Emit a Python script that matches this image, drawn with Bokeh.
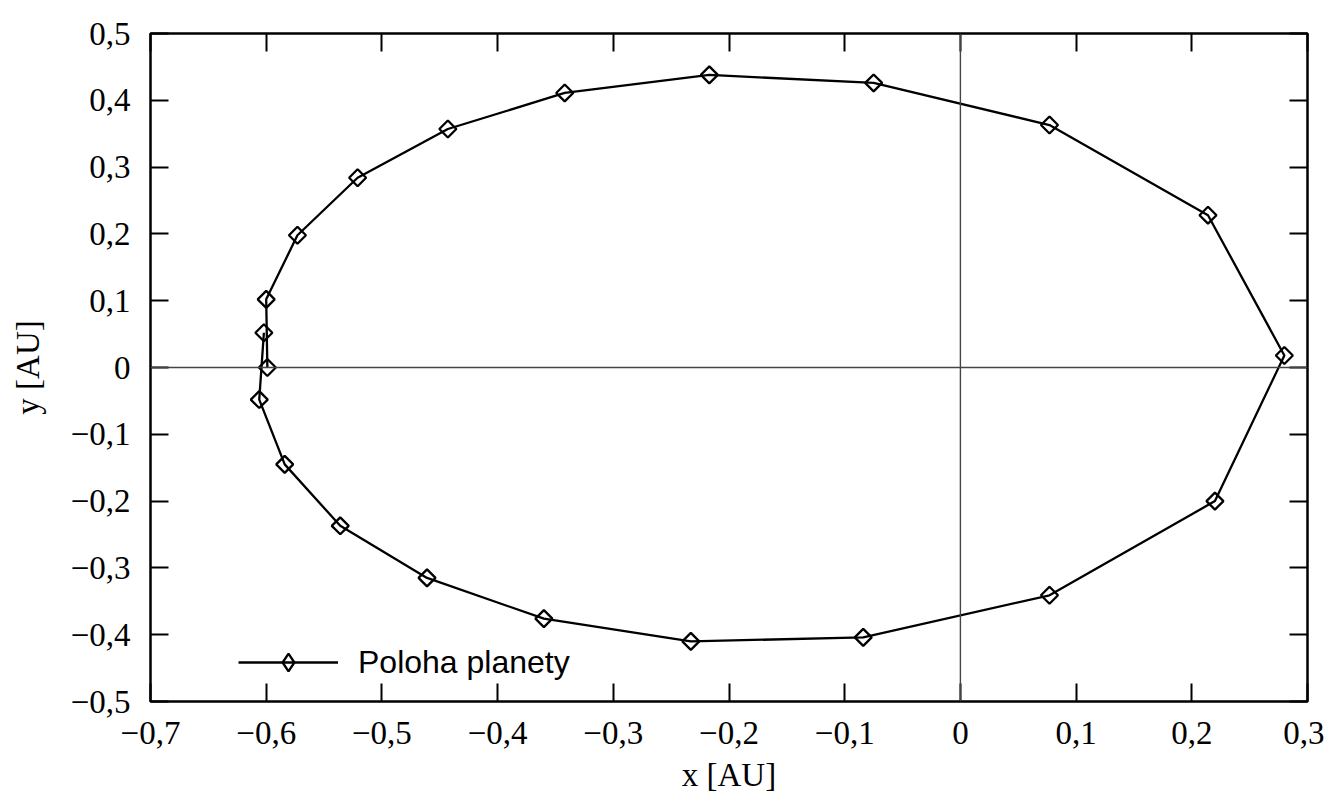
import numpy as np
from bokeh.plotting import figure
from bokeh.models import (FixedTicker, CustomJSTickFormatter, LinearAxis, Span,
                          Legend, LegendItem, Range1d)
from bokeh.embed import file_html
from bokeh.resources import INLINE

# ---- data ----
x_pos = [-0.599, -0.600, -0.573, -0.521, -0.443, -0.342, -0.217, -0.075, 0.077, 0.214,
         0.280, 0.220, 0.077, -0.084, -0.233, -0.360, -0.461, -0.536, -0.584, -0.606, -0.602]
y_pos = [0.000, 0.102, 0.198, 0.284, 0.357, 0.411, 0.438, 0.426, 0.363, 0.228,
         0.018, -0.200, -0.341, -0.404, -0.410, -0.376, -0.315, -0.237, -0.145, -0.048, 0.052]
series_name = "Poloha planety"

x_ticks = [-0.7, -0.6, -0.5, -0.4, -0.3, -0.2, -0.1, 0.0, 0.1, 0.2, 0.3]
x_tick_labels = ["−0,7", "−0,6", "−0,5", "−0,4", "−0,3", "−0,2", "−0,1", "0", "0,1", "0,2", "0,3"]
y_ticks = [-0.5, -0.4, -0.3, -0.2, -0.1, 0.0, 0.1, 0.2, 0.3, 0.4, 0.5]
y_tick_labels = ["−0,5", "−0,4", "−0,3", "−0,2", "−0,1", "0", "0,1", "0,2", "0,3", "0,4", "0,5"]
x_title = "x [AU]"
y_title = "y [AU]"

SERIF = "Liberation Serif"
SANS = "Liberation Sans"

p = figure(frame_width=1157, frame_height=668,
           min_border_left=150, min_border_right=17, min_border_top=33, min_border_bottom=100,
           x_range=Range1d(-0.7, 0.3), y_range=Range1d(-0.5, 0.5),
           output_backend="svg", toolbar_location=None)
p.grid.visible = False
p.outline_line_color = "black"
p.outline_line_width = 2.5
p.background_fill_color = "white"
p.border_fill_color = "white"

code = """
let best = 0, bd = 1e9;
for (let i = 0; i < tv.length; i++) {
  const d = Math.abs(tv[i] - tick);
  if (d < bd) { bd = d; best = i; }
}
return lab[best];
"""
xfmt = CustomJSTickFormatter(args=dict(tv=x_ticks, lab=x_tick_labels), code=code)
yfmt = CustomJSTickFormatter(args=dict(tv=y_ticks, lab=y_tick_labels), code=code)
empty = CustomJSTickFormatter(code="return '';")


def style(ax, ticks, fmt, standoff):
    ax.ticker = FixedTicker(ticks=ticks)
    ax.formatter = fmt
    ax.major_tick_in = 18
    ax.major_tick_out = 0
    ax.major_tick_line_width = 2
    ax.major_tick_line_color = "black"
    ax.minor_tick_line_color = None
    ax.axis_line_color = None
    ax.major_label_text_font = SERIF
    ax.major_label_text_font_size = "33px"
    ax.major_label_text_color = "black"
    ax.major_label_standoff = standoff
    ax.axis_label_text_font = SERIF
    ax.axis_label_text_font_size = "33px"
    ax.axis_label_text_font_style = "normal"
    ax.axis_label_text_color = "black"


xa = p.xaxis[0]
ya = p.yaxis[0]
style(xa, x_ticks, xfmt, 20)
style(ya, y_ticks, yfmt, 20)
xa.axis_label = x_title
xa.axis_label_standoff = 10
ya.axis_label = y_title
ya.axis_label_standoff = 22

top = LinearAxis()
right = LinearAxis()
p.add_layout(top, "above")
p.add_layout(right, "right")
style(top, x_ticks, empty, 0)
style(right, y_ticks, empty, 0)
top.major_label_text_font_size = "1px"
right.major_label_text_font_size = "1px"

# zero axes
p.add_layout(Span(location=0, dimension="height", line_color="#444444", line_width=1.4))
p.add_layout(Span(location=0, dimension="width", line_color="#444444", line_width=1.4))

r_line = p.line(x_pos, y_pos, line_color="black", line_width=2.3)
r_pts = p.scatter(x_pos, y_pos, marker="square", angle=np.pi / 4, size=12,
                  line_color="black", line_width=2.3, fill_alpha=0)
# legend sample marker (not drawn on the plot itself)
r_key = p.scatter(x_pos, y_pos, marker="diamond", size=18,
                  line_color="black", line_width=2.3, fill_alpha=0, visible=False)

legend = Legend(items=[LegendItem(label=series_name, renderers=[r_line, r_key])],
                location=(88, 17), padding=0, margin=0, spacing=0,
                glyph_width=100, glyph_height=44, label_height=44, label_standoff=20,
                label_text_font=SANS, label_text_font_size="32px", label_text_color="black",
                border_line_color=None, background_fill_alpha=0)
p.add_layout(legend, "center")

open("out.html", "w").write(file_html(p, INLINE))
